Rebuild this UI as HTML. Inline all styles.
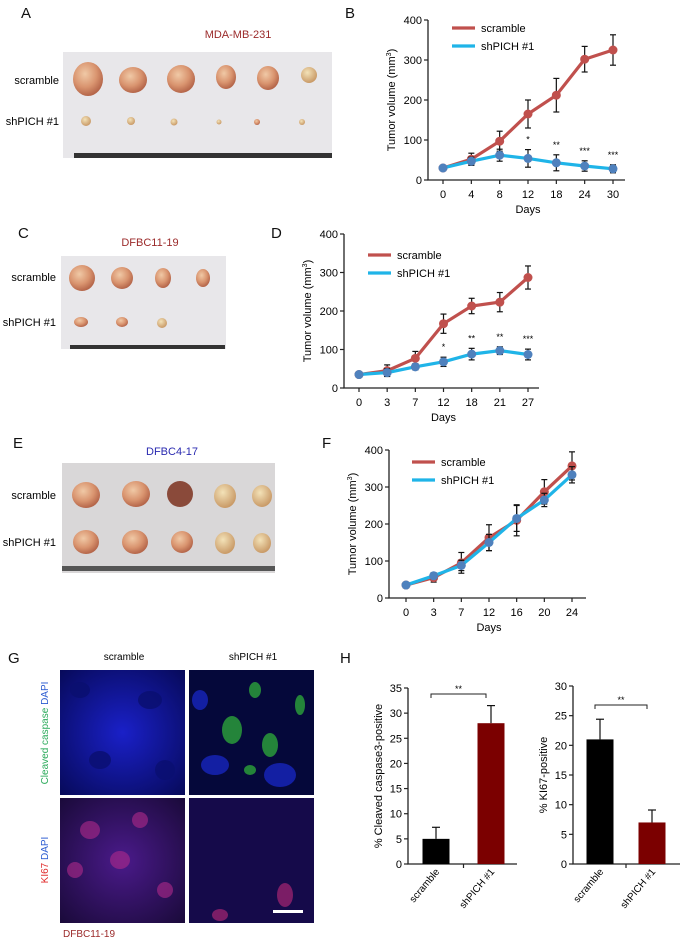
<!DOCTYPE html>
<html><head><meta charset="utf-8">
<style>
html,body{margin:0;padding:0;background:#fff;}
svg{display:block;font-family:"Liberation Sans",Arial,sans-serif;}
</style></head>
<body>
<svg id="fig" width="680" height="938" viewBox="0 0 680 938">
<defs>
<radialGradient id="tum" cx="40%" cy="35%" r="65%"><stop offset="0" stop-color="#f0c9a6"/><stop offset="0.6" stop-color="#d9946f"/><stop offset="1" stop-color="#b5664a"/></radialGradient>
<radialGradient id="tumS" cx="40%" cy="35%" r="65%"><stop offset="0" stop-color="#f3e2b8"/><stop offset="1" stop-color="#c99a67"/></radialGradient>
<radialGradient id="blueG" cx="50%" cy="50%" r="70%"><stop offset="0" stop-color="#1a20c8"/><stop offset="1" stop-color="#070a5a"/></radialGradient>
<radialGradient id="purG" cx="50%" cy="50%" r="70%"><stop offset="0" stop-color="#4a1a8a"/><stop offset="1" stop-color="#1a0a3a"/></radialGradient>
</defs>
<g font-size="15" fill="#111">
<text x="21" y="18">A</text><text x="345" y="18">B</text>
<text x="18" y="238">C</text><text x="271" y="238">D</text>
<text x="13" y="448">E</text><text x="322" y="448">F</text>
<text x="8" y="663">G</text><text x="340" y="663">H</text>
</g>
<g>
<text x="238" y="38" font-size="11" fill="#9b2a2a" text-anchor="middle">MDA-MB-231</text>
<rect x="63" y="52" width="269" height="106" fill="#e8e7ea"/>
<rect x="74" y="153" width="258" height="5" fill="#333"/>
<text x="59" y="84" font-size="11" text-anchor="end">scramble</text>
<text x="59" y="125" font-size="11" text-anchor="end">shPICH #1</text>
<ellipse cx="88" cy="79" rx="15" ry="17" fill="url(#tum)"/>
<ellipse cx="133" cy="80" rx="14" ry="13" fill="url(#tum)"/>
<ellipse cx="181" cy="79" rx="14" ry="14" fill="url(#tum)"/>
<ellipse cx="226" cy="77" rx="10" ry="12" fill="url(#tum)"/>
<ellipse cx="268" cy="78" rx="11" ry="12" fill="url(#tum)"/>
<ellipse cx="309" cy="75" rx="8" ry="8" fill="url(#tumS)"/>
<ellipse cx="86" cy="121" rx="5" ry="5" fill="url(#tumS)"/>
<ellipse cx="131" cy="121" rx="4" ry="4" fill="url(#tumS)"/>
<ellipse cx="174" cy="122" rx="3.5" ry="3.5" fill="url(#tumS)"/>
<ellipse cx="219" cy="122" rx="2.5" ry="2.5" fill="url(#tumS)"/>
<ellipse cx="257" cy="122" rx="3" ry="3" fill="url(#tum)"/>
<ellipse cx="302" cy="122" rx="3" ry="3" fill="url(#tumS)"/>
</g>
<g>
<text x="150" y="246" font-size="11" fill="#9b2a2a" text-anchor="middle">DFBC11-19</text>
<rect x="61" y="256" width="165" height="93" fill="#e8e7ea"/>
<rect x="70" y="345" width="155" height="4" fill="#333"/>
<text x="56" y="281" font-size="11" text-anchor="end">scramble</text>
<text x="56" y="326" font-size="11" text-anchor="end">shPICH #1</text>
<ellipse cx="82" cy="278" rx="13" ry="13" fill="url(#tum)"/>
<ellipse cx="122" cy="278" rx="11" ry="11" fill="url(#tum)"/>
<ellipse cx="163" cy="278" rx="8" ry="10" fill="url(#tum)"/>
<ellipse cx="203" cy="278" rx="7" ry="9" fill="url(#tum)"/>
<ellipse cx="81" cy="322" rx="7" ry="5" fill="url(#tum)"/>
<ellipse cx="122" cy="322" rx="6" ry="5" fill="url(#tum)"/>
<ellipse cx="162" cy="323" rx="5" ry="5" fill="url(#tumS)"/>
</g>
<g>
<text x="172" y="455" font-size="11" fill="#2a2ab0" text-anchor="middle">DFBC4-17</text>
<rect x="62" y="463" width="213" height="110" fill="#d9d7d8"/>
<rect x="62" y="566" width="213" height="5" fill="#555"/>
<text x="56" y="499" font-size="11" text-anchor="end">scramble</text>
<text x="56" y="546" font-size="11" text-anchor="end">shPICH #1</text>
<ellipse cx="86" cy="495" rx="14" ry="13" fill="url(#tum)"/>
<ellipse cx="136" cy="494" rx="14" ry="13" fill="url(#tum)"/>
<ellipse cx="180" cy="494" rx="13" ry="13" fill="#8a4a3a"/>
<ellipse cx="225" cy="496" rx="11" ry="12" fill="url(#tumS)"/>
<ellipse cx="262" cy="496" rx="10" ry="11" fill="url(#tumS)"/>
<ellipse cx="86" cy="542" rx="13" ry="12" fill="url(#tum)"/>
<ellipse cx="135" cy="542" rx="13" ry="12" fill="url(#tum)"/>
<ellipse cx="182" cy="542" rx="11" ry="11" fill="url(#tum)"/>
<ellipse cx="225" cy="543" rx="10" ry="11" fill="url(#tumS)"/>
<ellipse cx="262" cy="543" rx="9" ry="10" fill="url(#tumS)"/>
</g>
<g>
<text x="124" y="660" font-size="10" text-anchor="middle">scramble</text>
<text x="253" y="660" font-size="10" text-anchor="middle">shPICH #1</text>
<rect x="60" y="670" width="125" height="125" fill="url(#blueG)"/>
<g fill="#0a0f70" opacity="0.8"><ellipse cx="80" cy="690" rx="10" ry="8"/><ellipse cx="150" cy="700" rx="12" ry="9"/><ellipse cx="100" cy="760" rx="11" ry="9"/><ellipse cx="165" cy="770" rx="10" ry="10"/></g>
<rect x="189" y="670" width="125" height="125" fill="#05083a"/>
<g fill="#2a9a3a" opacity="0.85"><ellipse cx="232" cy="730" rx="10" ry="14"/><ellipse cx="270" cy="745" rx="8" ry="12"/><ellipse cx="255" cy="690" rx="6" ry="8"/><ellipse cx="300" cy="705" rx="5" ry="10"/><ellipse cx="250" cy="770" rx="6" ry="5"/></g>
<g fill="#1a2ad0" opacity="0.7"><ellipse cx="215" cy="765" rx="14" ry="10"/><ellipse cx="280" cy="775" rx="16" ry="12"/><ellipse cx="200" cy="700" rx="8" ry="10"/></g>
<rect x="60" y="798" width="125" height="125" fill="url(#purG)"/>
<g fill="#b02a8a" opacity="0.6"><ellipse cx="90" cy="830" rx="10" ry="9"/><ellipse cx="140" cy="820" rx="8" ry="8"/><ellipse cx="75" cy="870" rx="8" ry="8"/><ellipse cx="120" cy="860" rx="10" ry="9"/><ellipse cx="165" cy="890" rx="8" ry="8"/></g>
<rect x="189" y="798" width="125" height="125" fill="#150a4a"/>
<g fill="#c02a7a" opacity="0.6"><ellipse cx="285" cy="895" rx="8" ry="12"/><ellipse cx="220" cy="915" rx="8" ry="6"/></g>
<rect x="273" y="910" width="30" height="3" fill="#fff"/>
<text transform="translate(48,733) rotate(-90)" font-size="10" text-anchor="middle"><tspan fill="#2aaa5a">Cleaved caspase </tspan><tspan fill="#2a5ad0">DAPI</tspan></text>
<text transform="translate(48,860) rotate(-90)" font-size="10" text-anchor="middle"><tspan fill="#e02a2a">KI67 </tspan><tspan fill="#2a5ad0">DAPI</tspan></text>
<text x="63" y="937" font-size="10" fill="#9b2a2a">DFBC11-19</text>
</g>
<g id="charts"></g>
</svg>
<script>
// ---- Chart B data ----
const bDays = ["0","4","8","12","18","24","30"];
const bScramble = [30,52,97,165,212,302,325];
const bScrambleErr = [0,15,25,35,42,32,38];
const bShpich = [30,47,62,54,43,35,28];
const bShpichErr = [0,10,15,22,20,13,10];
const bStars = ["","","","*","**","***","***"];
// ---- Chart D data ----
const dDays = ["0","3","7","12","18","21","27"];
const dScramble = [35,45,77,167,213,223,287];
const dScrambleErr = [0,15,18,25,20,25,30];
const dShpich = [35,40,55,68,88,97,87];
const dShpichErr = [0,10,8,12,15,10,14];
const dStars = ["","","","*","**","**","***"];
// ---- Chart F data ----
const fDays = ["0","3","7","12","16","20","24"];
const fScramble = [35,55,95,163,210,287,357];
const fScrambleErr = [0,12,28,35,42,33,38];
const fShpich = [35,60,88,150,215,265,333];
const fShpichErr = [0,8,14,22,35,18,22];
const fStars = ["","","","","","",""];
const yTicksVol = [0,100,200,300,400];
// ---- Chart H data ----
const hGroups = ["scramble","shPICH #1"];
const hCaspase = [5,28];
const hCaspaseErr = [2.3,3.5];
const hCaspaseTicks = [0,5,10,15,20,25,30,35];
const hKi67 = [21,7];
const hKi67Err = [3.4,2.1];
const hKi67Ticks = [0,5,10,15,20,25,30];

const NS="http://www.w3.org/2000/svg";
const root=document.getElementById('charts');
function el(tag,attrs,parent,txt){const e=document.createElementNS(NS,tag);for(const k in attrs)e.setAttribute(k,attrs[k]);if(txt!==undefined)e.textContent=txt;(parent||root).appendChild(e);return e;}

function lineChart(cfg){
  const g=el('g',{});
  
  
  const y=v=>cfg.y0-(v/400)*(cfg.y0-cfg.y400);
  const x=i=>cfg.x0+i*(cfg.x1-cfg.x0)/(cfg.days.length-1);
  const ax=el('path',{d:`M${cfg.ax},${cfg.y400} L${cfg.ax},${cfg.y0} L${cfg.axEnd},${cfg.y0}`,stroke:'#222','stroke-width':1.3,fill:'none'},g);
  
  yTicksVol.forEach(t=>{
    el('line',{x1:cfg.ax-4,x2:cfg.ax,y1:y(t),y2:y(t),stroke:'#222','stroke-width':1.2},g);
    const tl=el('text',{x:cfg.ax-6,y:y(t)+4,'font-size':11,'text-anchor':'end'},g,String(t));
    
  });
  cfg.days.forEach((d,i)=>{
    el('line',{x1:x(i),x2:x(i),y1:cfg.y0,y2:cfg.y0+4,stroke:'#222','stroke-width':1.2},g);
    const tl=el('text',{x:x(i),y:cfg.y0+18,'font-size':11,'text-anchor':'middle'},g,d);
    
  });
  const xt=el('text',{x:(cfg.x0+cfg.x1)/2,y:cfg.y0+33,'font-size':11,'text-anchor':'middle'},g,'Days');
  
  const yt=el('text',{transform:`translate(${cfg.ax-33},${(cfg.y0+cfg.y400)/2}) rotate(-90)`,'font-size':11,'text-anchor':'middle'},g);
  
  el('tspan',{},yt,'Tumor volume (mm');el('tspan',{'font-size':7,dy:-4},yt,'3');el('tspan',{dy:4},yt,')');
  [[cfg.sc,cfg.scE,'#c0504d','scramble'],[cfg.sh,cfg.shE,'#1fb4e8','shpich']].forEach(([vals,errs,col,nm],si)=>{
    const p=el('polyline',{points:vals.map((v,i)=>x(i)+','+y(v)).join(' '),fill:'none',stroke:col,'stroke-width':3.2},g);
    
    vals.forEach((v,i)=>{
      if(errs[i]>0){
        el('line',{x1:x(i),x2:x(i),y1:y(v-errs[i]),y2:y(v+errs[i]),stroke:'#111','stroke-width':1.2},g);
        el('line',{x1:x(i)-3,x2:x(i)+3,y1:y(v+errs[i]),y2:y(v+errs[i]),stroke:'#111','stroke-width':1.2},g);
        el('line',{x1:x(i)-3,x2:x(i)+3,y1:y(v-errs[i]),y2:y(v-errs[i]),stroke:'#111','stroke-width':1.2},g);
      }
      const c=el('circle',{cx:x(i),cy:y(v),r:4.5,fill:si==0?'#c0504d':'#4f81bd'},g);
      
    });
  });
  cfg.stars.forEach((s,i)=>{ if(s){
    const t=el('text',{x:x(i),y:y(cfg.sh[i]+cfg.shE[i])-7,'font-size':9,'text-anchor':'middle'},g,s);
    }});
  [['#c0504d','scramble',0],['#1fb4e8','shPICH #1',1]].forEach(([c,l,k])=>{
    const ly=cfg.legY+k*18;
    const ln=el('line',{x1:cfg.legX,x2:cfg.legX+23,y1:ly,y2:ly,stroke:c,'stroke-width':3.2},g);
    
    const lt=el('text',{x:cfg.legX+29,y:ly+4,'font-size':11},g,l);
    
  });
}
lineChart({name:'chart-b',days:bDays,sc:bScramble,scE:bScrambleErr,sh:bShpich,shE:bShpichErr,stars:bStars,ax:428,axEnd:625,y400:20,y0:180,x0:443,x1:613,legX:452,legY:28});
lineChart({name:'chart-d',days:dDays,sc:dScramble,scE:dScrambleErr,sh:dShpich,shE:dShpichErr,stars:dStars,ax:344,axEnd:539,y400:234,y0:388,x0:359,x1:528,legX:368,legY:255});
lineChart({name:'chart-f',days:fDays,sc:fScramble,scE:fScrambleErr,sh:fShpich,shE:fShpichErr,stars:fStars,ax:389,axEnd:586,y400:450,y0:598,x0:406,x1:572,legX:412,legY:462});

function barChart(cfg){
  const g=el('g',{});
  
  
  const maxT=cfg.ticks[cfg.ticks.length-1];
  const y=v=>cfg.y0-(v/maxT)*(cfg.y0-cfg.yTop);
  el('path',{d:`M${cfg.ax},${cfg.yTop} L${cfg.ax},${cfg.y0} L${cfg.axEnd},${cfg.y0}`,stroke:'#222','stroke-width':1.3,fill:'none'},g);
  cfg.ticks.forEach(t=>{
    el('line',{x1:cfg.ax-4,x2:cfg.ax,y1:y(t),y2:y(t),stroke:'#222','stroke-width':1.2},g);
    const tl=el('text',{x:cfg.ax-6,y:y(t)+4,'font-size':11,'text-anchor':'end'},g,String(t));
    
  });
  const cols=['#000','#7b0000'];
  const bw=27, step=cfg.step;
  const cx=i=>cfg.first+i*step;
  cfg.vals.forEach((v,i)=>{
    el('line',{x1:cx(i),x2:cx(i),y1:y(v),y2:y(v+cfg.errs[i]),stroke:'#111','stroke-width':1.2},g);
    el('line',{x1:cx(i)-4,x2:cx(i)+4,y1:y(v+cfg.errs[i]),y2:y(v+cfg.errs[i]),stroke:'#111','stroke-width':1.2},g);
    const b=el('rect',{x:cx(i)-bw/2,y:y(v),width:bw,height:cfg.y0-y(v),fill:cols[i]},g);
    
    const tx=cx(i)+4, ty=cfg.y0+8;
    const tl=el('text',{transform:`translate(${tx},${ty}) rotate(-50)`,'font-size':10,'text-anchor':'end'},g,hGroups[i]);
    
  });
  el('line',{x1:cx(0)+step/2,x2:cx(0)+step/2,y1:cfg.y0,y2:cfg.y0+4,stroke:'#222','stroke-width':1.2},g);
  const by=cfg.bracketY;
  const br=el('path',{d:`M${cx(0)-5},${by+4} L${cx(0)-5},${by} L${cx(1)-5},${by} L${cx(1)-5},${by+4}`,stroke:'#222',fill:'none','stroke-width':1},g);
  
  el('text',{x:(cx(0)+cx(1))/2-5,y:by-2,'font-size':9,'text-anchor':'middle'},g,'**');
  const yt=el('text',{transform:`translate(${cfg.ax-26},${(cfg.y0+cfg.yTop)/2}) rotate(-90)`,'font-size':11,'text-anchor':'middle'},g,cfg.label);
  
}
barChart({name:'chart-h-caspase',vals:hCaspase,errs:hCaspaseErr,ticks:hCaspaseTicks,ax:408,axEnd:517,yTop:688,y0:864,first:436,step:55,bracketY:694,label:'% Cleaved caspase3-positive'});
barChart({name:'chart-h-ki67',vals:hKi67,errs:hKi67Err,ticks:hKi67Ticks,ax:573,axEnd:680,yTop:686,y0:864,first:600,step:52,bracketY:705,label:'% KI67-positive'});
</script>
</body></html>
